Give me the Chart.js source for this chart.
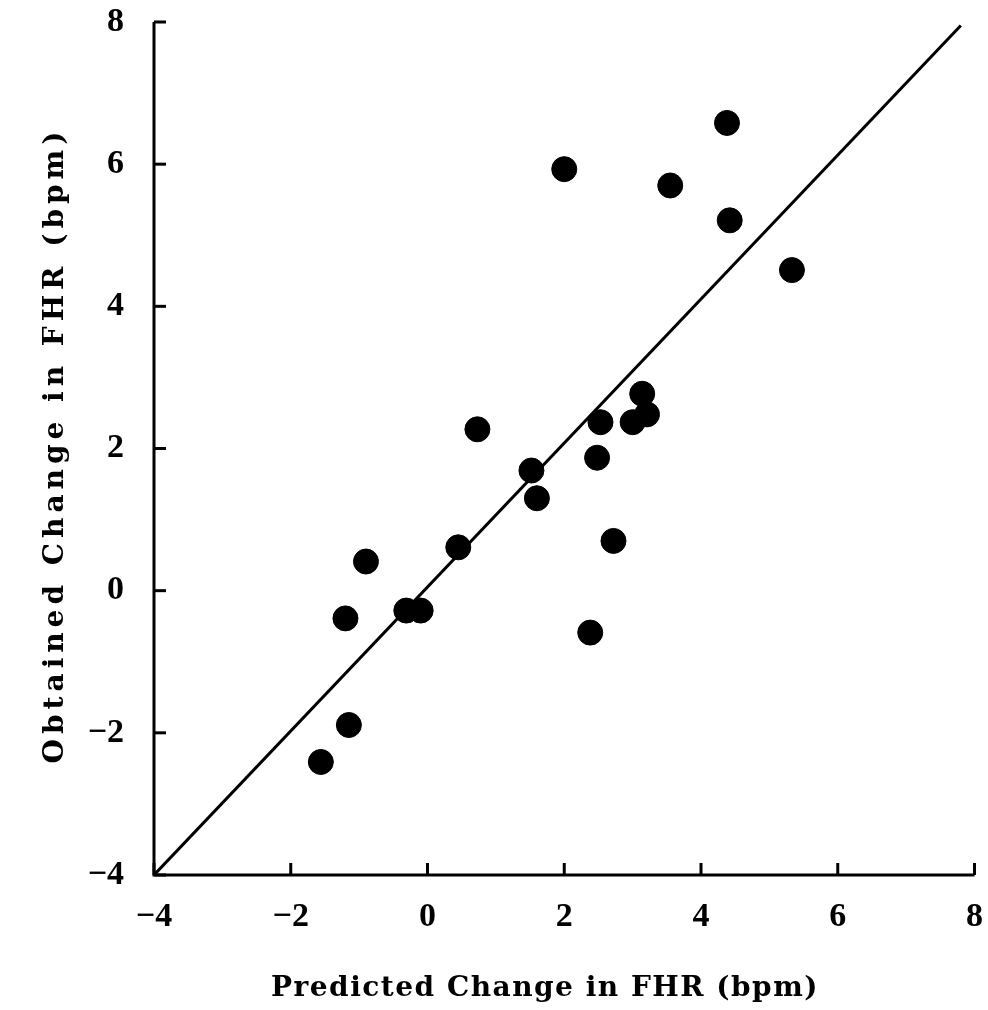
<!DOCTYPE html>
<html>
<head>
<meta charset="utf-8">
<script src="https://cdn.jsdelivr.net/npm/chart.js@4.4.1/dist/chart.umd.min.js"></script>
<style>
  html, body { margin: 0; padding: 0; background: #fff; }
  #wrap { width: 988px; height: 1010px; }
</style>
</head>
<body>
<div id="wrap"><canvas id="grafico"></canvas></div>
<script>
// Dados
var predicted = [-1.56, -1.15, -1.2, -0.9, -0.31, -0.1, 0.45, 0.73, 1.52, 1.6, 2.0, 2.48, 2.53, 2.38, 2.72, 3.0, 3.21, 3.14, 3.55, 4.38, 4.42, 5.33];
var obtained = [-2.41, -1.89, -0.39, 0.41, -0.28, -0.28, 0.61, 2.27, 1.69, 1.3, 5.93, 1.87, 2.37, -0.59, 0.70, 2.37, 2.48, 2.77, 5.70, 6.58, 5.21, 4.51];
var lineX = [-4, 7.8];
var lineY = [-4, 7.95];
var tickValues = [-4, -2, 0, 2, 4, 6, 8];
var xTitle = 'Predicted Change in FHR (bpm)';
var yTitle = 'Obtained Change in FHR (bpm)';

var pontos = predicted.map(function (x, i) { return { x: x, y: obtained[i] }; });
var linha = lineX.map(function (x, i) { return { x: x, y: lineY[i] }; });

// Eixos, marcas voltadas para dentro e títulos espaçados
var marcasInternas = {
    id: 'marcasInternas',
    afterDraw: function (chart) {
        var ctx = chart.ctx;
        var xs = chart.scales.x, ys = chart.scales.y;
        var area = chart.chartArea;
        ctx.save();
        ctx.strokeStyle = '#000';
        ctx.lineWidth = 3;
        ctx.beginPath();
        ctx.moveTo(area.left, area.top);
        ctx.lineTo(area.left, area.bottom);
        ctx.lineTo(area.right, area.bottom);
        ctx.stroke();
        tickValues.forEach(function (v) {
            var px = xs.getPixelForValue(v);
            ctx.beginPath();
            ctx.moveTo(px, area.bottom);
            ctx.lineTo(px, area.bottom - 12);
            ctx.stroke();
            var py = ys.getPixelForValue(v);
            ctx.beginPath();
            ctx.moveTo(area.left, py);
            ctx.lineTo(area.left + 12, py);
            ctx.stroke();
        });

        ctx.fillStyle = '#000';
        ctx.textAlign = 'center';
        ctx.textBaseline = 'alphabetic';
        ctx.font = 'bold 28px "DejaVu Serif"';
        ctx.letterSpacing = '1.5px';
        ctx.fillText(xTitle, 545, 996);

        ctx.translate(63, 445);
        ctx.rotate(-Math.PI / 2);
        ctx.font = 'bold 28px "DejaVu Serif"';
        ctx.letterSpacing = '5px';
        ctx.fillText(yTitle, 0, 0);
        ctx.restore();
    }
};

function menos(v) { return String(v).replace('-', '\u2212'); }

var ctx = document.getElementById('grafico').getContext('2d');
var grafico = new Chart(ctx, {
    type: 'scatter',
    data: {
        datasets: [{
            data: pontos,
            backgroundColor: '#000',
            borderColor: '#000',
            pointRadius: 12.5,
            pointHoverRadius: 12.5
        }, {
            type: 'line',
            data: linha,
            borderColor: '#000',
            borderWidth: 3,
            pointRadius: 0,
            fill: false
        }]
    },
    plugins: [marcasInternas],
    options: {
        responsive: true,
        maintainAspectRatio: false,
        animation: false,
        layout: { padding: { top: 22, right: 0, left: 0, bottom: 0 } },
        plugins: { legend: { display: false }, tooltip: { enabled: false } },
        scales: {
            x: {
                type: 'linear',
                min: -4, max: 8,
                afterFit: function (scale) {
                    scale.height = 135;
                    scale.paddingLeft = 0;
                    scale.paddingRight = 0;
                },
                grid: { display: false, drawTicks: false },
                border: { display: false },
                ticks: {
                    stepSize: 2, padding: 22, color: '#000',
                    font: { family: 'Liberation Serif', size: 34, weight: 'bold' },
                    callback: menos
                }
            },
            y: {
                type: 'linear',
                min: -4, max: 8,
                afterFit: function (scale) {
                    scale.width = 154;
                    scale.paddingTop = 0;
                    scale.paddingBottom = 0;
                },
                grid: { display: false, drawTicks: false },
                border: { display: false },
                ticks: {
                    stepSize: 2, padding: 30, color: '#000',
                    font: { family: 'Liberation Serif', size: 34, weight: 'bold' },
                    callback: menos
                }
            }
        }
    }
});
</script>
</body>
</html>
